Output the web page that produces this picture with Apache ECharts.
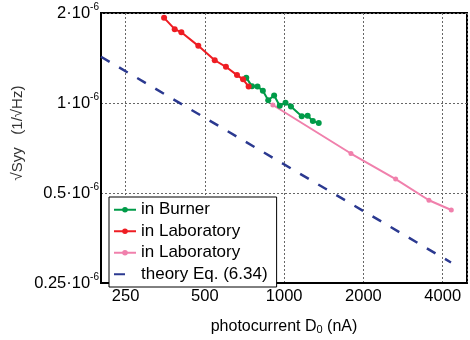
<!DOCTYPE html>
<html><head><meta charset="utf-8">
<script src="https://cdn.jsdelivr.net/npm/echarts@6/dist/echarts.min.js"></script>
<style>html,body{margin:0;padding:0;background:#fff}#c{width:470px;height:340px}</style>
</head><body><div id="c"></div>
<script>
// photocurrent D0 (nA) and sqrt(Syy) in units of 1e-6 1/sqrt(Hz)
const burnerX = [718, 755, 792, 830, 870, 916, 962, 1012, 1061, 1166, 1228, 1285, 1353];
const burnerY = [1.216, 1.137, 1.135, 1.100, 1.0225, 1.060, 0.980, 1.002, 0.973, 0.903, 0.907, 0.870, 0.857];
const lab1X = [350, 384, 407, 472, 545, 601, 662, 698, 733];
const lab1Y = [1.927, 1.766, 1.724, 1.553, 1.390, 1.322, 1.240, 1.200, 1.135];
const lab2X = [906, 1793, 2651, 3546, 4311];
const lab2Y = [0.985, 0.678, 0.557, 0.473, 0.439];
const theoryX = [201.6, 4300];
const theoryY = [1.428, 0.293];
const xTickValues = [250, 500, 1000, 2000, 4000];
const xTickLabels = ['250', '500', '1000', '2000', '4000'];
const yTickValues = [0.25, 0.5, 1, 2];
const yTickLabels = ['0.25', '0.5', '1', '2'];
const xRange = [201.6, 4946];
const yRange = [0.25, 2];
const seriesNames = ['in Burner', 'in Laboratory', 'in Laboratory ', 'theory Eq. (6.34)'];

const FONT = '"Liberation Sans", Arial, sans-serif';
const lx = v => Math.log2(v / 1000);
const ly = v => Math.log2(v);
const pts = (xs, ys) => xs.map((x, i) => [lx(x), ly(ys[i])]);
const findIdx = (vals, f, v) => vals.findIndex(t => Math.abs(f(t) - v) < 1e-6);

const chart = echarts.init(document.getElementById('c'), null, {renderer: 'canvas'});
chart.setOption({
  animation: false,
  backgroundColor: '#fff',
  textStyle: {fontFamily: FONT},
  grid: {left: 101, top: 13, right: -3, bottom: 47, show: true, borderColor: '#000', borderWidth: 2, containLabel: false},
  xAxis: {
    type: 'value', min: lx(xRange[0]), max: lx(xRange[1]), splitNumber: 4,
    axisLine: {show: true, onZero: false, lineStyle: {color: '#000', width: 2}},
    axisTick: {show: false},
    splitLine: {show: true, lineStyle: {color: '#666', width: 1, type: [2, 2]}},
    axisLabel: {
      color: '#000', fontSize: 16.5, fontFamily: FONT, margin: 5,
      formatter: v => { const i = findIdx(xTickValues, lx, v); return i >= 0 ? xTickLabels[i] : ''; }
    },
    name: '{n|photocurrent D}{sub|0}{n| (nA)}',
    nameLocation: 'middle', nameGap: 21,
    nameTextStyle: {
      rich: {
        n: {fontSize: 16, fontFamily: FONT, color: '#000', lineHeight: 16, verticalAlign: 'top'},
        sub: {fontSize: 11, fontFamily: FONT, color: '#000', lineHeight: 11, verticalAlign: 'bottom', padding: [14, 0, 0, 0]}
      }
    }
  },
  yAxis: {
    type: 'value', min: ly(yRange[0]), max: ly(yRange[1]), interval: 1,
    axisLine: {show: true, onZero: false, lineStyle: {color: '#000', width: 2}},
    axisTick: {show: false},
    splitLine: {show: true, lineStyle: {color: '#666', width: 1, type: [2, 2]}},
    axisLabel: {
      margin: 2,
      formatter: v => { const i = findIdx(yTickValues, ly, v); return i >= 0 ? '{m|' + yTickLabels[i] + '·10}{s|-6}' : ''; },
      rich: {
        m: {fontSize: 16.5, fontFamily: FONT, color: '#000', lineHeight: 22},
        s: {fontSize: 10, fontFamily: FONT, color: '#000', lineHeight: 10, verticalAlign: 'top'}
      }
    }
  },
  graphic: [{
    type: 'text', x: 18, y: 133, rotation: Math.PI / 2,
    style: {text: '√Syy   (1/√Hz)', font: '15px ' + FONT, fill: '#333', align: 'center', verticalAlign: 'middle'}
  }],
  legend: {
    show: true, orient: 'vertical', left: 109, top: 197,
    data: [seriesNames[0], seriesNames[1], seriesNames[2],
      {name: seriesNames[3], itemStyle: {opacity: 0}, lineStyle: {type: [11, 14]}}],
    selectedMode: false,
    backgroundColor: '#fff', borderColor: '#000', borderWidth: 1,
    padding: [2, 9, 2, 4], itemGap: 0, itemWidth: 22, itemHeight: 7,
    formatter: n => n.trim(),
    textStyle: {fontSize: 17, fontFamily: FONT, color: '#000', lineHeight: 21.5}
  },
  series: [
    {name: seriesNames[0], type: 'line', data: pts(burnerX, burnerY), color: '#009b48',
      lineStyle: {width: 2}, symbol: 'circle', symbolSize: 6, showSymbol: true},
    {name: seriesNames[1], type: 'line', data: pts(lab1X, lab1Y), color: '#ee1d23',
      lineStyle: {width: 2}, symbol: 'circle', symbolSize: 6, showSymbol: true},
    {name: seriesNames[2], type: 'line', data: pts(lab2X, lab2Y), color: '#f080ac',
      lineStyle: {width: 2}, symbol: 'circle', symbolSize: 5, showSymbol: true},
    {name: seriesNames[3], type: 'line', data: pts(theoryX, theoryY), color: '#2b3990',
      lineStyle: {width: 2.5, type: [10, 11]}, symbol: 'none', showSymbol: false}
  ]
});
</script></body></html>
